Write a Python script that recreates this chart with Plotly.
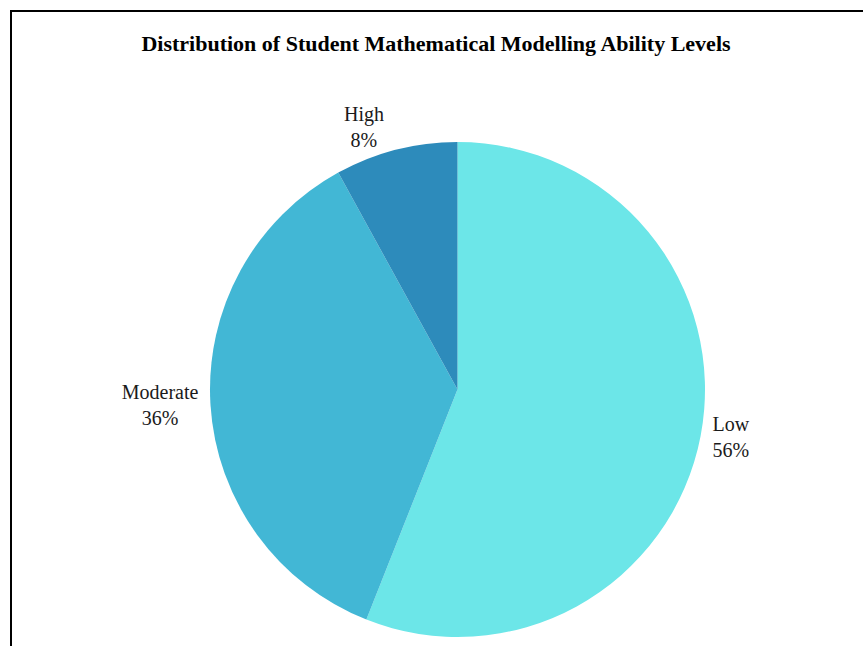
import plotly.graph_objects as go

categories = ["Low", "Moderate", "High"]
values = [56, 36, 8]
colors = ["#6ce6e8", "#42b7d5", "#2d8bbb"]

W, H = 863, 646
L, R, T, B = 210, 158, 142, 9

fig = go.Figure(go.Pie(
    labels=categories,
    values=values,
    sort=False,
    direction="clockwise",
    rotation=0,
    marker=dict(colors=colors, line=dict(width=0)),
    textposition="outside",
    texttemplate="%{label}<br>%{percent:.0%}",
    textfont=dict(family="Liberation Serif, Times New Roman, serif", size=20, color="#1a1a1a"),
    showlegend=False,
    hoverinfo="label+percent",
))

pw = W - L - R
ph = H - T - B
# frame border (starts ~11px from top-left of window)
fig.add_shape(type="rect", xref="paper", yref="paper",
              x0=(11 - L) / pw, x1=2.0,
              y0=-1.0, y1=(H - B - 11) / ph,
              line=dict(color="black", width=2), fillcolor="rgba(0,0,0,0)")

fig.update_layout(
    width=W, height=H,
    margin=dict(l=L, r=R, t=T, b=B),
    paper_bgcolor="white",
    plot_bgcolor="white",
    title=dict(
        text="<b>Distribution of Student Mathematical Modelling Ability Levels</b>",
        font=dict(family="Liberation Serif, Times New Roman, serif", size=22, color="black"),
        x=436 / W, xref="container", xanchor="center",
        y=1 - 43 / H, yref="container", yanchor="middle",
    ),
)

fig.write_html("out.html")
